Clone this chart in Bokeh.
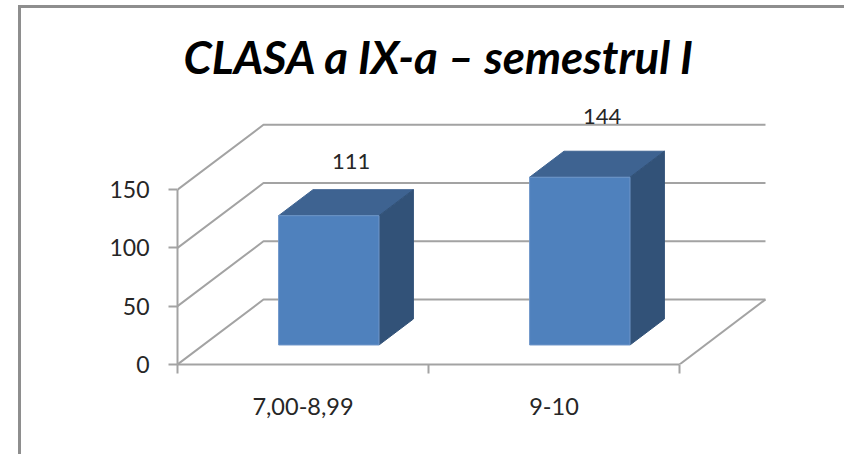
from bokeh.plotting import figure
from bokeh.embed import file_html
from bokeh.resources import INLINE
from bokeh.models import Range1d, FixedTicker, Title
from bokeh.core.properties import value

title_text = "CLASA a IX-a \u2013 semestrul I"
categories = ["7,00-8,99", "9-10"]
values = [111, 144]
label_lift = [32, 38]
y_ticks = [0, 50, 100, 150]
cat_edges = [0, 1, 2]

GRID = "#A3A3A3"
TXT = "#262626"
FONT = "Lato"
# oblique 3D projection, in data units per full depth
DEPTH_X, DEPTH_Y = 0.3426, 55.8
BAR_LO, BAR_HI = 0.3, 0.7


def X(x, d=0.0):
    return x + d * DEPTH_X


def Y(v, d=0.0):
    return v + d * DEPTH_Y


p = figure(width=826, height=449, output_backend="svg", toolbar_location=None,
           x_range=Range1d(0, 2.4024), y_range=Range1d(0, 226.6),
           min_border_left=156, min_border_right=67, min_border_top=92, min_border_bottom=93,
           styles={"margin-left": "18px", "margin-top": "5px",
                   "border-left": "3px solid #8E8E8E", "border-top": "3px solid #8E8E8E"})
p.outline_line_color = None
p.grid.visible = False
p.background_fill_color = "white"

p.title = Title(text=title_text, text_font=FONT, text_font_size="45.6px",
                text_font_style="bold italic", text_color="black",
                align="left", offset=6, standoff=33)

# axes
ya = p.yaxis[0]
ya.ticker = FixedTicker(ticks=y_ticks)
ya.bounds = (0, 150)
ya.axis_line_color = GRID
ya.axis_line_width = 2
ya.major_tick_line_color = GRID
ya.major_tick_line_width = 2
ya.major_tick_in = 0
ya.major_tick_out = 9
ya.minor_tick_out = 0
ya.minor_tick_in = 0
ya.major_label_standoff = 19
ya.major_label_text_font = FONT
ya.major_label_text_font_size = "23px"
ya.major_label_text_color = TXT

xa = p.xaxis[0]
xa.ticker = FixedTicker(ticks=[i + 0.5 for i in range(len(categories))], minor_ticks=cat_edges)
xa.bounds = (0, 2)
xa.major_label_overrides = {i + 0.5: c for i, c in enumerate(categories)}
xa.axis_line_color = GRID
xa.axis_line_width = 2
xa.major_tick_in = 0
xa.major_tick_out = 0
xa.minor_tick_line_color = GRID
xa.minor_tick_line_width = 2
xa.minor_tick_in = 0
xa.minor_tick_out = 9
xa.major_label_standoff = 24
xa.major_label_text_font = FONT
xa.major_label_text_font_size = "23.5px"
xa.major_label_text_color = TXT

# back wall, side wall and floor
xs, ys = [], []
for v in y_ticks:
    xs.append([X(0), X(0, 1), X(2, 1)])
    ys.append([Y(v), Y(v, 1), Y(v, 1)])
xs.append([X(2), X(2, 1)])
ys.append([Y(0), Y(0, 1)])
p.multi_line(xs, ys, line_color=GRID, line_width=2)

# bars
front_x, front_y, top_x, top_y, side_x, side_y = [], [], [], [], [], []
for i, v in enumerate(values):
    a, b = i + BAR_LO, i + BAR_HI
    front_x.append([X(a, BAR_LO), X(b, BAR_LO), X(b, BAR_LO), X(a, BAR_LO)])
    front_y.append([Y(0, BAR_LO), Y(0, BAR_LO), Y(v, BAR_LO), Y(v, BAR_LO)])
    top_x.append([X(a, BAR_LO), X(b, BAR_LO), X(b, BAR_HI), X(a, BAR_HI)])
    top_y.append([Y(v, BAR_LO), Y(v, BAR_LO), Y(v, BAR_HI), Y(v, BAR_HI)])
    side_x.append([X(b, BAR_LO), X(b, BAR_HI), X(b, BAR_HI), X(b, BAR_LO)])
    side_y.append([Y(0, BAR_LO), Y(0, BAR_HI), Y(v, BAR_HI), Y(v, BAR_LO)])
p.patches(top_x, top_y, fill_color="#3E6391", line_color="#3E6391", line_width=1)
p.patches(side_x, side_y, fill_color="#325278", line_color="#325278", line_width=1)
p.patches(front_x, front_y, fill_color="#4F81BD", line_color="#6F97C9", line_width=1)

# data labels
p.text([X(i + 0.5, 0.56) for i in range(len(values))],
       [Y(v, 0.56) + lift for v, lift in zip(values, label_lift)],
       text=[str(v) for v in values],
       text_font=value(FONT), text_font_size="22px", text_color=TXT,
       text_align="center", text_baseline="middle")

open("out.html", "w").write(file_html(p, INLINE))
